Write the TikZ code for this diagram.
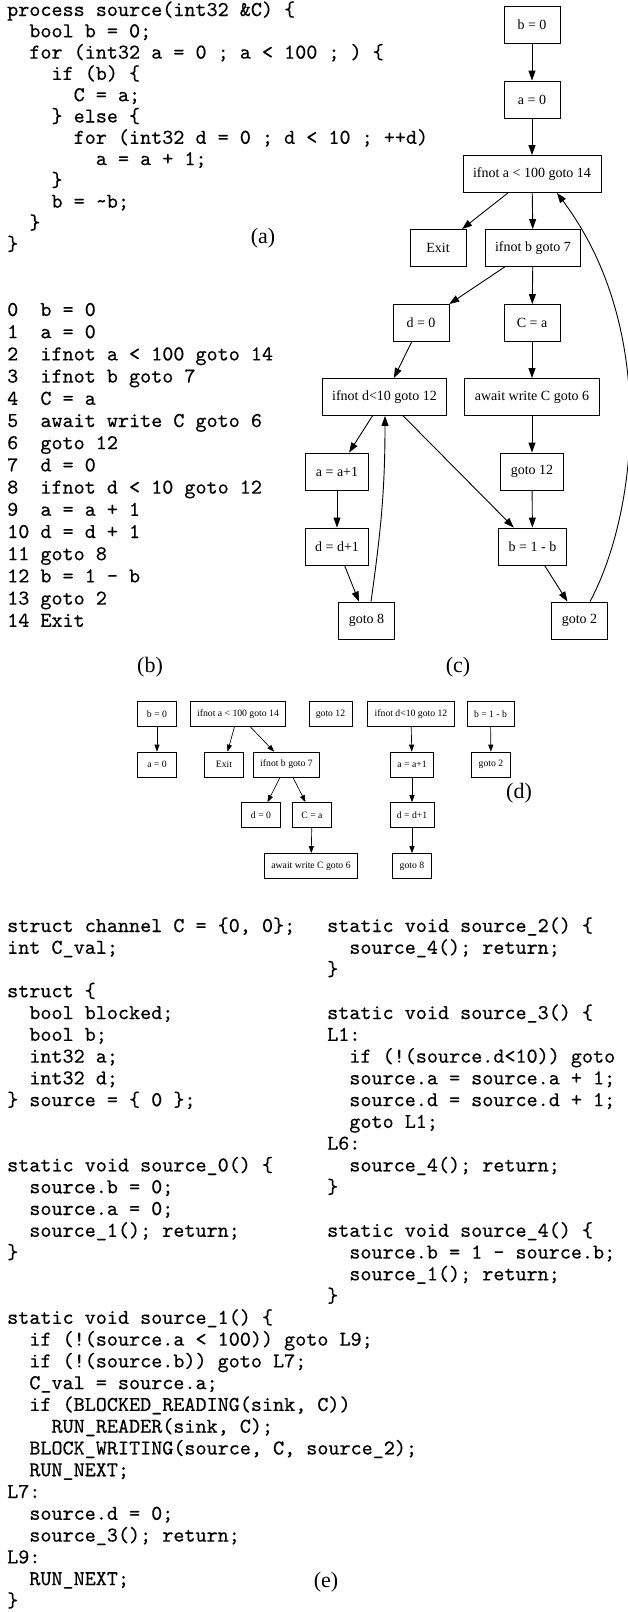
\documentclass[tikz,border=0pt]{standalone}
\usepackage{fontspec}
\setmainfont{Liberation Serif}
\newfontfamily\codefont{lmmono10-regular.otf}[FakeBold=0.3]
\usetikzlibrary{arrows.meta,positioning}

\tikzset{
  cfgbox/.style={draw, line width=0.9pt, minimum width=56pt, minimum height=37pt,
    inner xsep=10pt, inner ysep=0pt, font=\fontsize{14}{16}\selectfont},
  cfgarrow/.style={-{Triangle[length=10pt,width=7pt]}, line width=0.9pt},
  blockbox/.style={draw, line width=0.65pt, minimum width=39pt, minimum height=25pt,
    inner xsep=6.9pt, inner ysep=0pt, font=\fontsize{9.7}{11}\selectfont},
  blockarrow/.style={-{Triangle[length=7pt,width=5pt]}, line width=0.65pt},
  codeline/.style={anchor=base west, inner sep=0pt, font=\codefont\fontsize{21.1}{21.9}\selectfont},
  sublabel/.style={font=\fontsize{22}{24}\selectfont},
}

\begin{document}
\begin{tikzpicture}[x=1pt,y=1pt]
    \fill[white] (0,0) rectangle (628,-1612);
    \useasboundingbox (0,0) rectangle (628,-1612);

    % (a) process
    \foreach \txt [count=\i] in {
        {process source(int32 \&C) \{},
        {\ \ bool b = 0;},
        {\ \ for (int32 a = 0 ; a < 100 ; ) \{},
        {\ \ \ \ if (b) \{},
        {\ \ \ \ \ \ C = a;},
        {\ \ \ \ \} else \{},
        {\ \ \ \ \ \ for (int32 d = 0 ; d < 10 ; ++d)},
        {\ \ \ \ \ \ \ \ a = a + 1;},
        {\ \ \ \ \}},
        {\ \ \ \ b = \textasciitilde b;},
        {\ \ \}},
        {\}}} {
        \node[codeline] (src\i) at (7,{-16-21.3*(\i-1)}) {\txt};
    }
    \node[sublabel] (labA) at (263,-238) {(a)};

    % (b) three-address code
    \foreach \txt [count=\i] in {
        {0\ \ b = 0}, {1\ \ a = 0}, {2\ \ ifnot a < 100 goto 14},
        {3\ \ ifnot b goto 7}, {4\ \ C = a}, {5\ \ await write C goto 6},
        {6\ \ goto 12}, {7\ \ d = 0}, {8\ \ ifnot d < 10 goto 12},
        {9\ \ a = a + 1}, {10 d = d + 1}, {11 goto 8},
        {12 b = 1 - b}, {13 goto 2}, {14 Exit}} {
        \node[codeline] (tac\i) at (7,{-316-22.2*(\i-1)}) {\txt};
    }
    \node[sublabel] (labB) at (150,-667) {(b)};

    % (c) control-flow graph
    \node[cfgbox] (b0)    at (532,-24.5)    {b = 0};
    \node[cfgbox] (a0)    at (532,-99.5)    {a = 0};
    \node[cfgbox] (ifA)   at (532,-174)     {ifnot a < 100 goto 14};
    \node[cfgbox] (exit)  at (438,-248)     {Exit};
    \node[cfgbox] (ifB)   at (533,-248)     {ifnot b goto 7};
    \node[cfgbox] (d0)    at (421,-323)     {d = 0};
    \node[cfgbox] (Ca)    at (532,-323)     {C = a};
    \node[cfgbox] (ifD)   at (384.5,-397)   {ifnot d<10 goto 12};
    \node[cfgbox] (await) at (532,-397)     {await write C goto 6};
    \node[cfgbox] (ainc)  at (337,-471.5)   {a = a+1};
    \node[cfgbox] (g12)   at (532,-471.5)   {goto 12};
    \node[cfgbox] (dinc)  at (337,-546.5)   {d = d+1};
    \node[cfgbox] (b1b)   at (532.5,-546.5) {b = 1 - b};
    \node[cfgbox] (g8)    at (366.5,-620.5) {goto 8};
    \node[cfgbox] (g2)    at (579.5,-620.5) {goto 2};
    \foreach \u/\v in {b0/a0, a0/ifA, ifA/exit, ifA/ifB, ifB/d0, ifB/Ca,
        d0/ifD, Ca/await, ifD/ainc, ifD/b1b, await/g12, g12/b1b,
        ainc/dinc, dinc/g8, b1b/g2} {
        \draw[cfgarrow] (\u) -- (\v);
    }
    \draw[cfgarrow] ([xshift=4.5pt]g8.north) to[out=82,in=-90] ([xshift=0.5pt]ifD.south);
    \draw[cfgarrow] ([xshift=10.5pt]g2.north) .. controls (637,-514) and (659,-329) .. ([xshift=25pt]ifA.south);
    \node[sublabel] (labC) at (458,-667) {(c)};

    % (d) basic blocks
    \node[blockbox] (sb0)    at (157,-714)     {b = 0};
    \node[blockbox] (sa0)    at (157,-764.5)   {a = 0};
    \node[blockbox] (sifA)   at (238,-714)     {ifnot a < 100 goto 14};
    \node[blockbox] (sg12)   at (330.5,-714)   {goto 12};
    \node[blockbox] (sifD)   at (411,-714)     {ifnot d<10 goto 12};
    \node[blockbox] (sb1b)   at (490.5,-714)   {b = 1 - b};
    \node[blockbox] (sexit)  at (224,-764.5)   {Exit};
    \node[blockbox] (sifB)   at (286.5,-764.5) {ifnot b goto 7};
    \node[blockbox] (sainc)  at (412,-764.5)   {a = a+1};
    \node[blockbox] (sg2)    at (491,-764.5)   {goto 2};
    \node[blockbox] (sd0)    at (261,-815)     {d = 0};
    \node[blockbox] (sCa)    at (312,-815)     {C = a};
    \node[blockbox] (sdinc)  at (412,-815)     {d = d+1};
    \node[blockbox] (sawait) at (311,-866)     {await write C goto 6};
    \node[blockbox] (sg8)    at (412,-866)     {goto 8};
    \foreach \u/\v in {sb0/sa0, sifA/sexit, sifA/sifB, sifB/sd0, sifB/sCa,
        sCa/sawait, sifD/sainc, sainc/sdinc, sdinc/sg8, sb1b/sg2} {
        \draw[blockarrow] (\u) -- (\v);
    }
    \node[sublabel] (labD) at (519,-793) {(d)};

    % (e) generated C, left column
    \foreach \txt [count=\i] in {
        {struct channel C = \{0, 0\};},
        {int C\_val;},
        {},
        {struct \{},
        {\ \ bool blocked;},
        {\ \ bool b;},
        {\ \ int32 a;},
        {\ \ int32 d;},
        {\} source = \{ 0 \};},
        {}, {},
        {static void source\_0() \{},
        {\ \ source.b = 0;},
        {\ \ source.a = 0;},
        {\ \ source\_1(); return;},
        {\}},
        {}, {},
        {static void source\_1() \{},
        {\ \ if (!(source.a < 100)) goto L9;},
        {\ \ if (!(source.b)) goto L7;},
        {\ \ C\_val = source.a;},
        {\ \ if (BLOCKED\_READING(sink, C))},
        {\ \ \ \ RUN\_READER(sink, C);},
        {\ \ BLOCK\_WRITING(source, C, source\_2);},
        {\ \ RUN\_NEXT;},
        {L7:},
        {\ \ source.d = 0;},
        {\ \ source\_3(); return;},
        {L9:},
        {\ \ RUN\_NEXT;},
        {\}}} {
        \node[codeline] (cl\i) at (7,{-932-21.77*(\i-1)}) {\txt};
    }

    % (e) generated C, right column
    \foreach \txt [count=\i] in {
        {static void source\_2() \{},
        {\ \ source\_4(); return;},
        {\}},
        {},
        {static void source\_3() \{},
        {L1:},
        {\ \ if (!(source.d<10)) goto},
        {\ \ source.a = source.a + 1;},
        {\ \ source.d = source.d + 1;},
        {\ \ goto L1;},
        {L6:},
        {\ \ source\_4(); return;},
        {\}},
        {},
        {static void source\_4() \{},
        {\ \ source.b = 1 - source.b;},
        {\ \ source\_1(); return;},
        {\}}} {
        \node[codeline] (cr\i) at (327,{-932-21.77*(\i-1)}) {\txt};
    }
    \node[sublabel] (labE) at (326,-1582) {(e)};
\end{tikzpicture}
\end{document}
